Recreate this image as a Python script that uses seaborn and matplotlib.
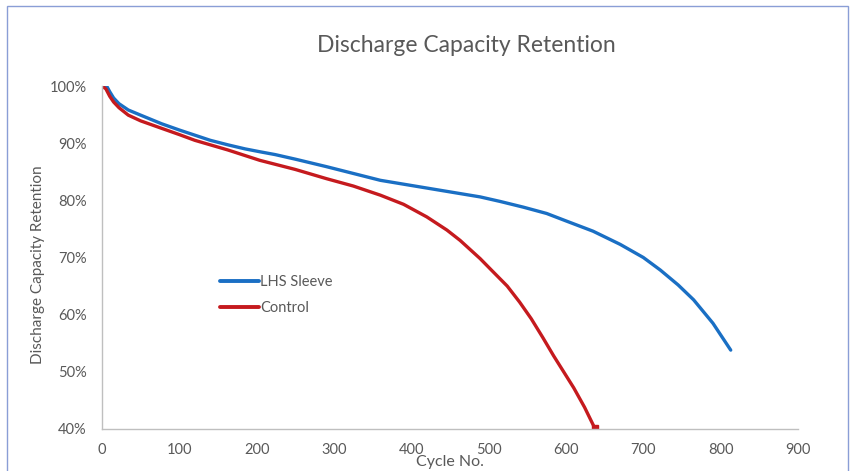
import pandas as pd
import matplotlib
matplotlib.use("Agg")
import matplotlib.pyplot as plt
import matplotlib.patches as mpatches
from matplotlib.ticker import FuncFormatter
import seaborn as sns

# ── Data ──────────────────────────────────────────────────────────────────────
LHS_CYCLES = [0, 6, 10, 15, 22, 34, 50, 77, 100, 120, 140, 163, 185, 204, 224,
              250, 290, 325, 360, 400, 440, 489, 515, 545, 575, 600, 635, 670,
              700, 722, 745, 765, 790, 813]
LHS_RET    = [100, 100, 99.0, 97.9, 96.9, 95.8, 94.9, 93.4, 92.3, 91.4, 90.5, 89.7,
              89.0, 88.5, 88.0, 87.2, 85.9, 84.7, 83.5, 82.6, 81.7, 80.6, 79.8,
              78.8, 77.7, 76.4, 74.6, 72.3, 70.0, 67.8, 65.2, 62.6, 58.5, 53.8]

CTRL_CYCLES = [0, 5, 10, 15, 22, 34, 50, 77, 100, 120, 163, 204, 250, 290, 325,
               360, 390, 420, 446, 463, 489, 505, 524, 540, 555, 570, 584, 597,
               610, 624, 637]
CTRL_RET    = [100, 99.5, 98.2, 97.2, 96.2, 94.9, 93.9, 92.6, 91.5, 90.5, 88.8,
               87.0, 85.4, 83.8, 82.5, 80.9, 79.3, 77.1, 74.8, 73.0, 69.8, 67.6,
               65.0, 62.2, 59.3, 56.0, 52.8, 50.0, 47.2, 43.8, 40.2]

SERIES = ["LHS Sleeve", "Control"]
X_TICKS = list(range(0, 901, 100))
Y_TICKS = list(range(40, 101, 10))

COLORS = {"LHS Sleeve": "#1A6FC4", "Control": "#C51A1E"}
GREY_TXT = "#595959"

df = pd.concat([
    pd.DataFrame({"cycle": LHS_CYCLES, "retention": LHS_RET, "series": SERIES[0]}),
    pd.DataFrame({"cycle": CTRL_CYCLES, "retention": CTRL_RET, "series": SERIES[1]}),
])

# ── Style ─────────────────────────────────────────────────────────────────────
sns.set_theme(style="white")
plt.rcParams["font.family"] = ["Lato", "DejaVu Sans"]

fig = plt.figure(figsize=(8.53, 4.71), dpi=100)
ax = fig.add_axes([102 / 853, 1 - 429 / 471, 696 / 853, 343 / 471])

sns.lineplot(data=df, x="cycle", y="retention", hue="series", hue_order=SERIES,
             palette=COLORS, linewidth=2.4, sort=False, estimator=None, ax=ax)
for line in ax.get_lines():
    line.set_solid_joinstyle("round")

# small square cap at the end of the control curve
ax.plot(CTRL_CYCLES[-1:], CTRL_RET[-1:], marker="s", markersize=4,
        color=COLORS["Control"], linestyle="none")

ax.set_xlim(0, 900)
ax.set_ylim(40, 100)
ax.set_xticks(X_TICKS)
ax.set_yticks(Y_TICKS)
ax.yaxis.set_major_formatter(FuncFormatter(lambda v, _: f"{v:.0f}%"))
ax.tick_params(axis="both", length=0, labelsize=10.5, labelcolor=GREY_TXT)
ax.tick_params(axis="x", pad=10)
ax.tick_params(axis="y", pad=11)

for side in ["top", "right"]:
    ax.spines[side].set_visible(False)
for side in ["left", "bottom"]:
    ax.spines[side].set_color("#BFBFBF")
    ax.spines[side].set_linewidth(1)

# Excel-style axis title sitting just under the tick labels
ax.set_xlabel("Cycle No.", fontsize=11.5, color=GREY_TXT)
ax.xaxis.set_label_coords(0.5, -0.076)
ax.set_ylabel("Discharge Capacity Retention", fontsize=11, color=GREY_TXT)
ax.yaxis.set_label_coords(-0.082, 0.48)

leg = ax.legend(loc="center left", bbox_to_anchor=(0.15, 0.39), frameon=False,
                fontsize=10.5, handlelength=2.7, handletextpad=0.1,
                labelspacing=0.85)
for txt in leg.get_texts():
    txt.set_color(GREY_TXT)
for line in leg.get_lines():
    line.set_linewidth(2.8)

fig.text(466 / 853, 1 - 45 / 471, "Discharge Capacity Retention",
         ha="center", va="center", fontsize=16.5, color=GREY_TXT)

# thin frame around the chart area
fig.patches.append(mpatches.Rectangle(
    (7 / 853, -0.05), 841 / 853, 1.05 - 6 / 471, transform=fig.transFigure,
    fill=False, edgecolor="#8A9ED6", linewidth=1))

fig.savefig("out.png", dpi=100, facecolor="white")
